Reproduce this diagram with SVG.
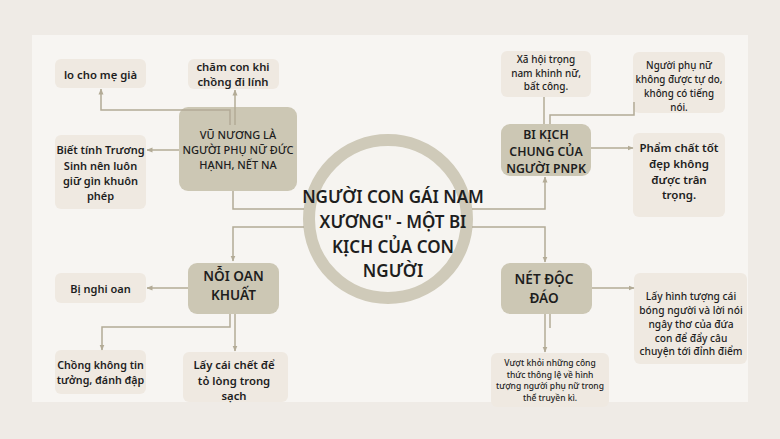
<svg xmlns="http://www.w3.org/2000/svg" width="780" height="439" viewBox="0 0 780 439">
<defs>
<marker id="arr" markerWidth="6" markerHeight="6" refX="5.5" refY="3" orient="auto" markerUnits="userSpaceOnUse">
<path d="M0,0.5 L6,3 L0,5.5 z" fill="#b3ab96"/>
</marker>
</defs>
<style>
.dark{fill:#ccc7b4}
.light{fill:#efe9e1}
text{font-family:"Noto Sans","DejaVu Sans",sans-serif;fill:#1e1e1e;text-anchor:middle}
.t{font-weight:600}
.m{font-weight:500}
.b{font-weight:600}
.c{fill:none;stroke:#b3ab96;stroke-width:1.5}
</style>
<rect x="0" y="0" width="780" height="439" fill="#efebe6"/>
<rect x="32" y="35" width="716" height="367" fill="#f7f5f2"/>

<g id="center">
<circle cx="388" cy="219" r="79" fill="#f6f4f0" stroke="#cfcab9" stroke-width="12"/>
<text class="b" font-size="17"><tspan x="393" y="202.5">NGƯỜI CON GÁI NAM</tspan><tspan x="393" y="227.5">XƯƠNG" - MỘT BI</tspan><tspan x="393" y="252.5">KỊCH CỦA CON</tspan><tspan x="393" y="277">NGƯỜI</tspan></text>
</g>

<g id="n-lo">
<rect class="light" x="55" y="59" width="91" height="29" rx="6"/>
<text class="t" font-size="11.3" x="100.5" y="79">lo cho mẹ già</text>
</g>
<g id="n-cham">
<rect class="light" x="188" y="59" width="91" height="30" rx="6"/>
<text class="t" font-size="11.3"><tspan x="233" y="70.5">chăm con khi</tspan><tspan x="233" y="86">chồng đi lính</tspan></text>
</g>
<g id="n-vu">
<rect class="dark" x="179" y="107" width="118" height="84" rx="9"/>
<text class="m" font-size="11"><tspan x="238" y="139">VŨ NƯƠNG LÀ</tspan><tspan x="238" y="154">NGƯỜI PHỤ NỮ ĐỨC</tspan><tspan x="238" y="169">HẠNH, NẾT NA</tspan></text>
</g>
<g id="n-biet">
<rect class="light" x="55" y="135" width="91" height="74" rx="6"/>
<text class="t" font-size="11"><tspan x="100.5" y="154">Biết tính Trương</tspan><tspan x="100.5" y="169.5">Sinh nên luôn</tspan><tspan x="100.5" y="185">giữ gìn khuôn</tspan><tspan x="100.5" y="200">phép</tspan></text>
</g>

<g id="n-xahoi">
<rect class="light" x="501" y="51" width="90" height="46" rx="6"/>
<text class="m" font-size="10"><tspan x="546" y="63.3">Xã hội trọng</tspan><tspan x="546" y="76.7">nam khinh nữ,</tspan><tspan x="546" y="90">bất công.</tspan></text>
</g>
<g id="n-nguoi">
<rect class="light" x="633" y="52" width="92" height="61" rx="6"/>
<text class="m" font-size="9.8"><tspan x="679" y="69.3">Người phụ nữ</tspan><tspan x="679" y="83.3">không được tự do,</tspan><tspan x="679" y="97.3">không có tiếng</tspan><tspan x="679" y="111">nói.</tspan></text>
</g>
<g id="n-bikich">
<rect class="dark" x="501" y="124" width="90" height="52" rx="9"/>
<text class="b" font-size="12.3"><tspan x="546" y="139">BI KỊCH</tspan><tspan x="546" y="155.7">CHUNG CỦA</tspan><tspan x="546" y="172.5">NGƯỜI PNPK</tspan></text>
</g>
<g id="n-pham">
<rect class="light" x="633" y="133" width="92" height="84" rx="6"/>
<text class="t" font-size="11.5"><tspan x="679" y="152.3">Phẩm chất tốt</tspan><tspan x="679" y="168.3">đẹp không</tspan><tspan x="679" y="184">được trân</tspan><tspan x="679" y="199.3">trọng.</tspan></text>
</g>

<g id="n-noioan">
<rect class="dark" x="188" y="263" width="91" height="51" rx="9"/>
<text class="b" font-size="13.6"><tspan x="233.5" y="281">NỖI OAN</tspan><tspan x="233.5" y="300">KHUẤT</tspan></text>
</g>
<g id="n-binghi">
<rect class="light" x="55" y="273" width="91" height="30" rx="6"/>
<text class="t" font-size="11" x="100.5" y="292.7">Bị nghi oan</text>
</g>
<g id="n-chong">
<rect class="light" x="55" y="350" width="91" height="44" rx="6"/>
<text class="t" font-size="10.7"><tspan x="100.5" y="369.3">Chồng không tin</tspan><tspan x="100.5" y="384.3">tưởng, đánh đập</tspan></text>
</g>
<g id="n-laycai">
<rect class="light" x="183" y="352" width="105" height="50" rx="6"/>
<text class="t" font-size="11.3"><tspan x="234" y="369.3">Lấy cái chết để</tspan><tspan x="234" y="385">tỏ lòng trong</tspan><tspan x="234" y="400">sạch</tspan></text>
</g>

<g id="n-net">
<rect class="dark" x="501" y="263" width="91" height="51" rx="9"/>
<text class="b" font-size="13.6"><tspan x="544" y="284.3">NÉT ĐỘC</tspan><tspan x="544" y="303.3">ĐÁO</tspan></text>
</g>
<g id="n-layhinh">
<rect class="light" x="634" y="273" width="113" height="91" rx="6"/>
<text class="m" font-size="10.2"><tspan x="691" y="300">Lấy hình tượng cái</tspan><tspan x="691" y="314">bóng người và lời nói</tspan><tspan x="691" y="327.5">ngây thơ của đứa</tspan><tspan x="691" y="341.5">con để đẩy câu</tspan><tspan x="691" y="355">chuyện tới đỉnh điểm</tspan></text>
</g>
<g id="n-vuot">
<rect class="light" x="491" y="353" width="118" height="54" rx="6"/>
<text class="m" font-size="8.5"><tspan x="550" y="366">Vượt khỏi những công</tspan><tspan x="550" y="377.7">thức thông lệ về hình</tspan><tspan x="550" y="389.3">tượng người phụ nữ trong</tspan><tspan x="550" y="400.7">thể truyền kì.</tspan></text>
</g>

<g id="connectors">
<path class="c" d="M230,125 V110 H101 V89" marker-end="url(#arr)"/>
<path class="c" d="M235,125 V90" marker-end="url(#arr)"/>
<path class="c" d="M179,150 H147" marker-end="url(#arr)"/>
<path class="c" d="M233,191 V209 H304"/>
<path class="c" d="M304,227 H233 V261" marker-end="url(#arr)"/>
<path class="c" d="M472,209 H545 V177" marker-end="url(#arr)"/>
<path class="c" d="M472,227 H545 V262" marker-end="url(#arr)"/>
<path class="c" d="M544,124 V97"/>
<path class="c" d="M550,124 V115 H634 V102"/>
<path class="c" d="M591,148 H633" marker-end="url(#arr)"/>
<path class="c" d="M188,288 H147" marker-end="url(#arr)"/>
<path class="c" d="M230,314 V327 H102 V350" marker-end="url(#arr)"/>
<path class="c" d="M235,314 V351" marker-end="url(#arr)"/>
<path class="c" d="M592,288 H634" marker-end="url(#arr)"/>
<path class="c" d="M545,314 V352" marker-end="url(#arr)"/>
<path class="c" d="M550,314 V328"/>
</g>
</svg>
